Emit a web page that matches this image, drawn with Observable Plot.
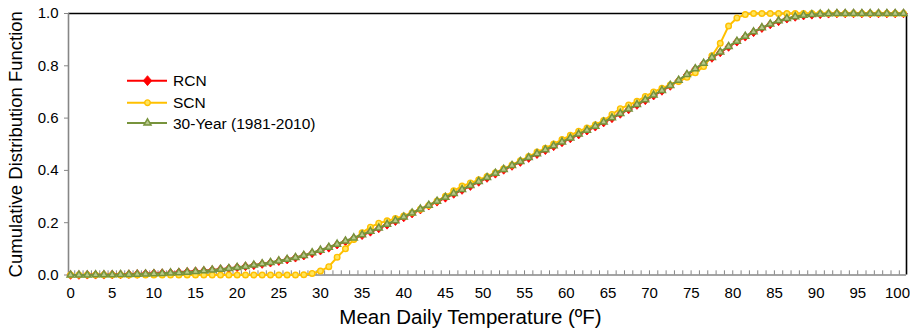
<!DOCTYPE html>
<html>
<head>
<meta charset="utf-8">
<script src="https://cdn.jsdelivr.net/npm/d3@7"></script>
<script src="https://cdn.jsdelivr.net/npm/@observablehq/plot@0.6"></script>
<style>
  html, body { margin: 0; padding: 0; background: #fff; }
  #chart { position: relative; width: 910px; height: 333px; font-family: "Liberation Sans", Arial, Helvetica, sans-serif; }
  #legend { position: absolute; left: 0; top: 0; pointer-events: none; }
</style>
</head>
<body>
<div id="chart"></div>
<script>
// Categories: mean daily temperature (°F), 0..100
const temps = Array.from({length: 101}, (_, i) => i);

// Tick labels
const xTickLabels = [0, 5, 10, 15, 20, 25, 30, 35, 40, 45, 50, 55, 60, 65, 70, 75, 80, 85, 90, 95, 100];
const yTickLabels = [0, 0.2, 0.4, 0.6, 0.8, 1.0];

// Series names
const seriesNames = ["RCN", "SCN", "30-Year (1981-2010)"];

// RCN cumulative distribution
const rcn = [
  0.000, 0.000, 0.001, 0.001, 0.001, 0.002, 0.002, 0.003, 0.004, 0.005,
  0.006, 0.007, 0.008, 0.010, 0.012, 0.014, 0.016, 0.019, 0.022, 0.025,
  0.029, 0.033, 0.037, 0.042, 0.047, 0.053, 0.059, 0.066, 0.074, 0.083,
  0.093, 0.104, 0.116, 0.128, 0.140, 0.152, 0.165, 0.178, 0.192, 0.206,
  0.220, 0.235, 0.250, 0.265, 0.280, 0.295, 0.310, 0.325, 0.340, 0.356,
  0.371, 0.387, 0.402, 0.417, 0.432, 0.447, 0.462, 0.477, 0.492, 0.507,
  0.522, 0.537, 0.552, 0.567, 0.583, 0.599, 0.616, 0.633, 0.650, 0.668,
  0.686, 0.704, 0.723, 0.743, 0.765, 0.787, 0.808, 0.830, 0.851, 0.872,
  0.892, 0.911, 0.928, 0.944, 0.958, 0.970, 0.980, 0.987, 0.992, 0.995,
  0.997, 0.999, 1.000, 1.000, 1.000, 1.000, 1.000, 1.000, 1.000, 1.000,
  1.000
];

// SCN cumulative distribution
const scn = [
  0.000, 0.000, 0.000, 0.000, 0.000, 0.000, 0.000, 0.000, 0.000, 0.000,
  0.000, 0.000, 0.000, 0.000, 0.000, 0.000, 0.000, 0.000, 0.000, 0.000,
  0.000, 0.000, 0.000, 0.000, 0.000, 0.000, 0.000, 0.000, 0.001, 0.006,
  0.015, 0.032, 0.068, 0.100, 0.136, 0.162, 0.183, 0.198, 0.207, 0.216,
  0.226, 0.238, 0.251, 0.266, 0.283, 0.301, 0.322, 0.340, 0.352, 0.364,
  0.377, 0.391, 0.406, 0.421, 0.437, 0.453, 0.470, 0.485, 0.501, 0.518,
  0.534, 0.550, 0.562, 0.575, 0.591, 0.614, 0.636, 0.650, 0.664, 0.683,
  0.700, 0.714, 0.727, 0.740, 0.756, 0.773, 0.797, 0.838, 0.886, 0.952,
  0.983, 0.996, 1.000, 1.000, 1.000, 1.000, 1.000, 1.000, 1.000, 1.000,
  1.000, 1.000, 1.000, 1.000, 1.000, 1.000, 1.000, 1.000, 1.000, 1.000,
  1.000
];

// 30-Year (1981-2010) cumulative distribution
const thirtyYear = [
  0.000, 0.000, 0.000, 0.001, 0.001, 0.001, 0.002, 0.002, 0.003, 0.004,
  0.005, 0.006, 0.008, 0.009, 0.011, 0.013, 0.016, 0.019, 0.022, 0.025,
  0.029, 0.033, 0.038, 0.043, 0.048, 0.054, 0.060, 0.067, 0.075, 0.085,
  0.095, 0.106, 0.118, 0.130, 0.142, 0.154, 0.167, 0.180, 0.194, 0.208,
  0.222, 0.237, 0.252, 0.267, 0.282, 0.297, 0.312, 0.327, 0.342, 0.358,
  0.373, 0.389, 0.404, 0.419, 0.434, 0.449, 0.464, 0.479, 0.494, 0.509,
  0.524, 0.539, 0.554, 0.569, 0.585, 0.601, 0.618, 0.635, 0.652, 0.670,
  0.688, 0.706, 0.725, 0.745, 0.767, 0.789, 0.810, 0.832, 0.853, 0.874,
  0.894, 0.913, 0.930, 0.946, 0.960, 0.972, 0.981, 0.988, 0.993, 0.996,
  0.998, 0.999, 1.000, 1.000, 1.000, 1.000, 1.000, 1.000, 1.000, 1.000,
  1.000
];

// Minor category tick positions (between categories)
const minorTicks = temps.slice(0, 100).map(t => t + 0.5);

const FONT = '"Liberation Sans", Arial, Helvetica, sans-serif';
const RED = "#ff0000", GOLD = "#ffc000", OLIVE = "#77933c";
const GRAY = "#868686";

const diamond = {
  draw(ctx, size) {
    const r = Math.sqrt(size / 2);
    const rx = r * 0.88, ry = r * 1.05;
    ctx.moveTo(0, -ry); ctx.lineTo(rx, 0); ctx.lineTo(0, ry); ctx.lineTo(-rx, 0); ctx.closePath();
  }
};

const xDomain = [-0.25, 100.36];
const labelsA = xTickLabels.filter(v => v < 50);
const labelsB = xTickLabels.filter(v => v >= 50 && v < 100);
const labelsC = xTickLabels.filter(v => v >= 100);

const chart = Plot.plot({
  width: 910,
  height: 333,
  marginLeft: 68,
  marginRight: 4,
  marginTop: 13,
  marginBottom: 58.5,
  style: { fontFamily: FONT, fontSize: "15px", color: "#000", background: "transparent" },
  x: { domain: xDomain },
  y: { domain: [0, 1] },
  marks: [
    // frame / axes lines
    Plot.ruleY([1], { stroke: "#000", strokeWidth: 1.6 }),
    Plot.ruleX([xDomain[1]], { stroke: "#000", strokeWidth: 1.6 }),
    Plot.ruleX([xDomain[0]], { stroke: GRAY, strokeWidth: 1.6 }),
    Plot.ruleY([0], { stroke: GRAY, strokeWidth: 1.6 }),
    Plot.ruleX(minorTicks, { x: d => d, y1: 0, y2: 0.016, stroke: GRAY, strokeWidth: 1 }),
    Plot.axisY({ ticks: yTickLabels, tickFormat: d3.format(".1f"), tickSize: 4, tickPadding: 6, stroke: GRAY, fontSize: 15, label: null }),
    Plot.axisX({ ticks: labelsA, tickSize: 0, tickPadding: 12, fontSize: 15, label: null }),
    Plot.axisX({ ticks: labelsB, tickSize: 0, tickPadding: 12, dx: -4, fontSize: 15, label: null }),
    Plot.axisX({ ticks: labelsC, tickSize: 0, tickPadding: 12, dx: -6, fontSize: 15, label: null }),
    // axis titles
    Plot.text(["Mean Daily Temperature (ºF)"], { frameAnchor: "bottom", lineAnchor: "bottom", textAnchor: "middle", dx: -17, dy: 49, fontSize: 20.5, fill: "#000" }),
    Plot.text(["Cumulative Distribution Function"], { frameAnchor: "left", lineAnchor: "bottom", textAnchor: "middle", rotate: -90, dx: -47, fontSize: 18.5, fill: "#000" }),
    // RCN
    Plot.line(temps, { x: (d, i) => temps[i], y: (d, i) => rcn[i], stroke: RED, strokeWidth: 2 }),
    Plot.dot(temps, { x: (d, i) => temps[i], y: (d, i) => rcn[i], symbol: diamond, r: 3.3, fill: RED, stroke: RED, strokeWidth: 0.8 }),
    // SCN
    Plot.line(temps, { x: (d, i) => temps[i], y: (d, i) => scn[i], stroke: GOLD, strokeWidth: 2 }),
    Plot.dot(temps, { x: (d, i) => temps[i], y: (d, i) => scn[i], symbol: "circle", r: 2.8, fill: "#ffe45c", stroke: GOLD, strokeWidth: 1.4 }),
    // 30-Year
    Plot.line(temps, { x: (d, i) => temps[i], y: (d, i) => thirtyYear[i], stroke: OLIVE, strokeWidth: 2.2 }),
    Plot.dot(temps, { x: (d, i) => temps[i], y: (d, i) => thirtyYear[i], symbol: "triangle", r: 2.6, fill: "#b8c98e", stroke: OLIVE, strokeWidth: 1.5 })
  ]
});

const container = document.getElementById("chart");
container.appendChild(chart);

// Legend (inside plot area, drawn as overlay SVG)
const legendSpec = [
  { name: seriesNames[0], color: RED, symbol: diamond, r: 3.8, fill: RED, sw: 0.8, y: 80.7 },
  { name: seriesNames[1], color: GOLD, symbol: d3.symbolCircle, r: 2.8, fill: "#ffe45c", sw: 1.4, y: 102.7 },
  { name: seriesNames[2], color: OLIVE, symbol: d3.symbolTriangle, r: 2.6, fill: "#b8c98e", sw: 1.5, y: 122.9 }
];
const lg = d3.select(container).append("svg")
  .attr("id", "legend").attr("width", 910).attr("height", 333);
for (const s of legendSpec) {
  const g = lg.append("g");
  g.append("line").attr("x1", 127).attr("x2", 167).attr("y1", s.y).attr("y2", s.y)
    .attr("stroke", s.color).attr("stroke-width", 2);
  g.append("path").attr("transform", `translate(147.5,${s.y})`)
    .attr("d", d3.symbol(s.symbol, Math.PI * s.r * s.r)())
    .attr("fill", s.fill).attr("stroke", s.color).attr("stroke-width", s.sw);
  g.append("text").attr("x", 173).attr("y", s.y + 5.6)
    .attr("font-family", FONT).attr("font-size", 15.5).attr("fill", "#000").text(s.name);
}
</script>
</body>
</html>
